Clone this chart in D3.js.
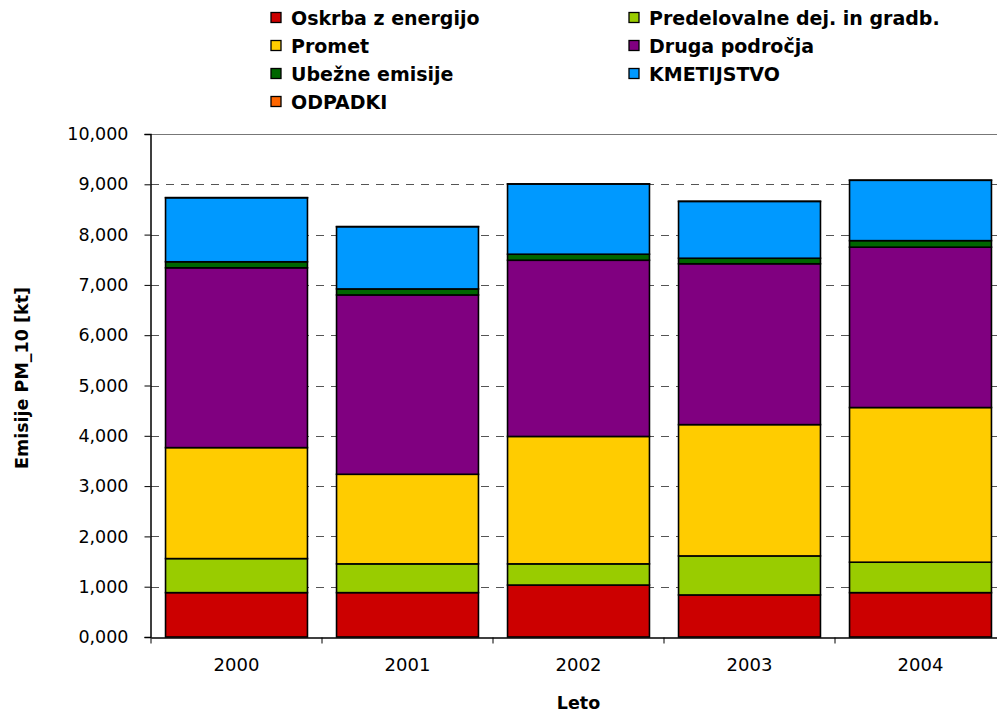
<!DOCTYPE html>
<html>
<head>
<meta charset="utf-8">
<script src="https://cdn.jsdelivr.net/npm/d3@7"></script>
<style>
  body { margin: 0; background: #fff; }
  svg { display: block; }
  text { font-family: "DejaVu Sans", Verdana, sans-serif; }
</style>
</head>
<body>
<svg width="997" height="713"></svg>
<script>
// years and emissions per sector, kt
var years = ["2000", "2001", "2002", "2003", "2004"];
var sectors = ["Oskrba z energijo", "Predelovalne dej. in gradb.", "Promet", "Druga področja",
               "Ubežne emisije", "KMETIJSTVO", "ODPADKI"];
var colors = ["#CC0000", "#99CC00", "#FFCC00", "#800080", "#006600", "#0099FF", "#FF6600"];

var oskrba      = [0.882, 0.882, 1.033, 0.836, 0.882];
var predelovalne = [0.677, 0.572, 0.421, 0.776, 0.605];
var promet      = [2.206, 1.781, 2.533, 2.610, 3.075];
var druga       = [3.575, 3.565, 3.503, 3.198, 3.188];
var ubezne      = [0.120, 0.120, 0.120, 0.110, 0.130];
var kmetijstvo  = [1.273, 1.237, 1.396, 1.130, 1.200];
var odpadki     = [0.002, 0.002, 0.002, 0.002, 0.002];

var yTicks = [0, 1, 2, 3, 4, 5, 6, 7, 8, 9, 10];

var series = [oskrba, predelovalne, promet, druga, ubezne, kmetijstvo, odpadki];
var table = years.map(function(y, i) {
  var row = {year: y};
  sectors.forEach(function(s, j) { row[s] = series[j][i]; });
  return row;
});

var svg = d3.select("svg");
var loc = d3.formatLocale({decimal: ",", thousands: ".", grouping: [3], currency: ["", ""]});
var fmt = loc.format(".3f");

var x = d3.scaleBand().domain(years).range([151, 1006]).paddingInner(0.17).paddingOuter(0.085);
var y = d3.scaleLinear().domain([0, 10]).range([637, 134]);

// gridlines
svg.append("g").selectAll("line").data(yTicks.filter(function(d) { return d > 0; }))
  .enter().append("line")
  .attr("x1", 151).attr("x2", 1006)
  .attr("y1", function(d) { return Math.round(y(d)) + 0.5; })
  .attr("y2", function(d) { return Math.round(y(d)) + 0.5; })
  .attr("stroke", function(d) { return d === 10 ? "#777" : "#555"; })
  .attr("stroke-width", 1)
  .attr("stroke-dasharray", function(d) { return d === 10 ? null : "8,7"; });

// bars
var stack = d3.stack().keys(sectors)(table);
var g = svg.append("g").selectAll("g").data(stack).enter().append("g")
  .attr("fill", function(d, i) { return colors[i]; });
g.selectAll("rect").data(function(d) { return d; }).enter().append("rect")
  .attr("x", function(d) { return x(d.data.year); })
  .attr("width", x.bandwidth())
  .attr("y", function(d) { return y(d[1]); })
  .attr("height", function(d) { return y(d[0]) - y(d[1]); })
  .attr("stroke", "#000").attr("stroke-width", 1.6);

// axes
var yAxis = d3.axisLeft(y).tickValues(yTicks).tickFormat(fmt).tickSize(6).tickPadding(16);
var gy = svg.append("g").attr("transform", "translate(150.5,0)").call(yAxis);
gy.select(".domain").attr("stroke", "#000").attr("stroke-width", 1.5);
gy.selectAll(".tick line").attr("stroke", "#000");
gy.selectAll(".tick text").attr("font-size", 17.5).attr("fill", "#000")
  .attr("font-family", "DejaVu Sans");

var xAxis = d3.axisBottom(x).tickSize(6).tickSizeOuter(0).tickPadding(15);
var gx = svg.append("g").attr("transform", "translate(0,637.5)").call(xAxis);
gx.select(".domain").attr("stroke", "#000").attr("stroke-width", 1.5);
gx.selectAll(".tick line").attr("stroke", "#000")
  .attr("transform", function() { return "translate(" + (-x.step() / 2) + ",0)"; });
gx.selectAll(".tick text").attr("font-size", 18).attr("fill", "#000")
  .attr("font-family", "DejaVu Sans");
gx.append("line").attr("x1", x.range()[1]).attr("x2", x.range()[1])
  .attr("y1", 0).attr("y2", 6).attr("stroke", "#000");

// axis titles
svg.append("text").attr("x", 578.5).attr("y", 709).attr("text-anchor", "middle")
  .attr("font-size", 17.5).attr("font-weight", "bold").text("Leto");
svg.append("text").attr("transform", "translate(28,378) rotate(-90)").attr("text-anchor", "middle")
  .attr("font-size", 17.5).attr("font-weight", "bold").text("Emisije PM_10 [kt]");

// legend, two columns filled row by row
var legendOrder = [0, 1, 2, 3, 4, 5, 6];
var lg = svg.append("g").selectAll("g").data(legendOrder).enter().append("g")
  .attr("transform", function(d, i) {
    var col = i % 2, row = Math.floor(i / 2);
    return "translate(" + (col === 0 ? 271 : 629) + "," + (12.5 + row * 28) + ")";
  });
lg.append("rect").attr("width", 10).attr("height", 10)
  .attr("fill", function(d) { return colors[d]; })
  .attr("stroke", "#000").attr("stroke-width", 1.3);
lg.append("text").attr("x", 20).attr("y", 12).attr("font-size", 19).attr("font-weight", "bold")
  .text(function(d) { return sectors[d]; });
</script>
</body>
</html>
